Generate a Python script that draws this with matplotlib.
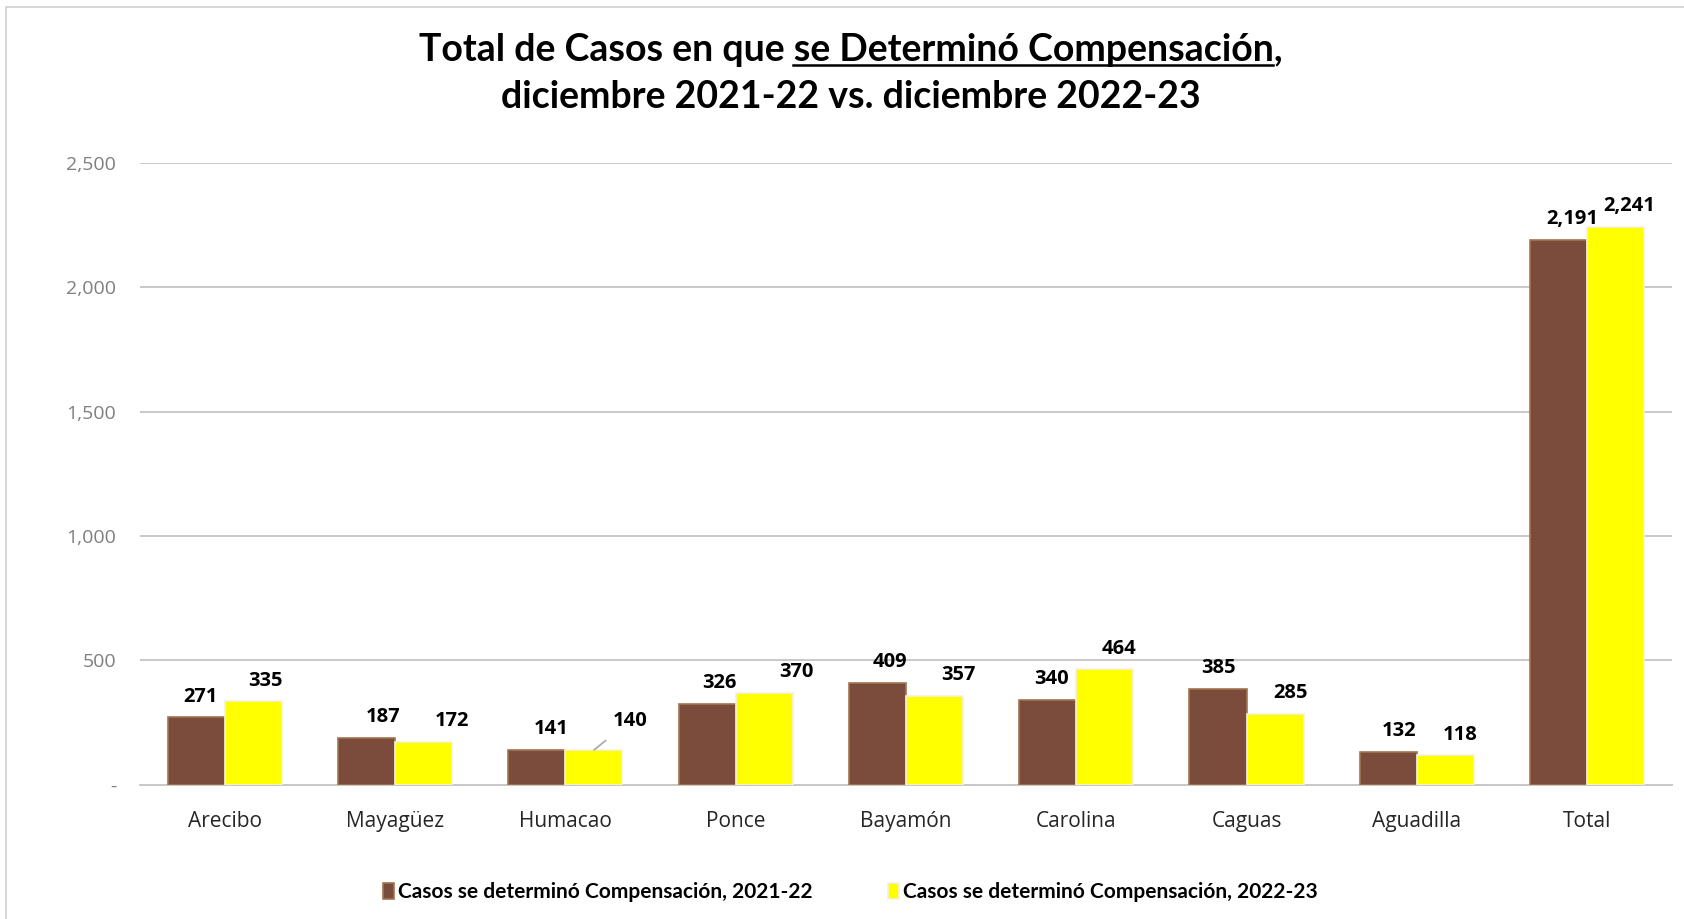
import numpy as np
import matplotlib.pyplot as plt
from matplotlib.patches import Rectangle
from matplotlib.lines import Line2D
from matplotlib.ticker import FuncFormatter

# Datos
regiones = ['Arecibo', 'Mayagüez', 'Humacao', 'Ponce', 'Bayamón',
            'Carolina', 'Caguas', 'Aguadilla', 'Total']
casos_2122 = [271, 187, 141, 326, 409, 340, 385, 132, 2191]
casos_2223 = [335, 172, 140, 370, 357, 464, 285, 118, 2241]
serie_2122 = 'Casos se determinó Compensación, 2021-22'
serie_2223 = 'Casos se determinó Compensación, 2022-23'
y_ticks = [0, 500, 1000, 1500, 2000, 2500]

# desplazamiento de etiquetas (puntos), como en el original de Excel
dx_a = [3, 12, 10, 9, 9, 3, 0, 8, 10]
dx_b = [9, 20, 0, 23, 17, 10, 11, 11, 10]

marron = '#7B4B3B'
amarillo = '#FFFF00'
TXT = 'Open Sans'
TIT = 'Lato'

fig = plt.figure(figsize=(16.84, 9.19), dpi=100)
ax = fig.add_axes([0.083, 0.146, 0.910, 0.677])

x = np.arange(len(regiones))
w = 0.335
b1 = ax.bar(x - w / 2, casos_2122, w, color=marron, edgecolor='#A27450',
            linewidth=1.2, label=serie_2122, zorder=3)
b2 = ax.bar(x + w / 2, casos_2223, w, color=amarillo, edgecolor='#F2F2E0',
            linewidth=1.2, label=serie_2223, zorder=3)

# etiquetas de datos
lkw = dict(ha='center', va='center', fontsize=14.5, fontweight='bold',
           family=TXT, color='black', textcoords='offset points')
for i, (r, v) in enumerate(zip(b1, casos_2122)):
    ax.annotate(f'{v:,}', (r.get_x() + r.get_width() / 2, v),
                xytext=(dx_a[i], 15), **lkw)
for i, (r, v) in enumerate(zip(b2, casos_2223)):
    if regiones[i] == 'Humacao':
        ax.annotate(f'{v:,}', (r.get_x() + r.get_width() / 2, v),
                    xytext=(26, 21), **lkw,
                    arrowprops=dict(arrowstyle='-', color='#A6A6A6', lw=1.2,
                                    shrinkA=8, shrinkB=0))
        continue
    ax.annotate(f'{v:,}', (r.get_x() + r.get_width() / 2, v),
                xytext=(dx_b[i], 15), **lkw)

ax.set_xlim(-0.5, len(regiones) - 0.5)
ax.set_ylim(0, 2500)
ax.set_yticks(y_ticks)
ax.yaxis.set_major_formatter(FuncFormatter(lambda v, p: '-' if v == 0 else f'{v:,.0f}'))
ax.set_xticks(x)
ax.set_xticklabels(regiones)
ax.tick_params(axis='y', length=0, pad=17, labelsize=14, labelcolor='#7F7F7F')
ax.tick_params(axis='x', length=0, pad=19, labelsize=15, labelcolor='#262626')
for lab in ax.get_xticklabels() + ax.get_yticklabels():
    lab.set_family(TXT)

ax.grid(axis='y', color='#C8C8C8', linewidth=1.4, zorder=0)
for s in ['top', 'right', 'left']:
    ax.spines[s].set_visible(False)
ax.spines['bottom'].set_color('#C8C8C8')
ax.spines['bottom'].set_linewidth(1.4)

# leyenda
leg = fig.legend(loc='center', bbox_to_anchor=(0.505, 0.029), ncol=2, frameon=False,
                 prop={'family': TIT, 'weight': 'bold', 'size': 15},
                 handlelength=0.55, handleheight=0.75, handletextpad=0.2,
                 columnspacing=3.6)

# título, con subrayado en una parte
parte1 = 'Total de Casos en que '
parte2 = 'se Determinó Compensación'
parte3 = ','
tkw = dict(fontsize=27, fontweight='bold', family=TIT, color='black')
yl1 = 1 - 50 / 919
yl2 = 1 - 97 / 919
t_full = fig.text(0.505, yl1, parte1 + parte2 + parte3, ha='center', va='center', **tkw)
fig.text(0.505, yl2, 'diciembre 2021-22 vs. diciembre 2022-23', ha='center', va='center', **tkw)

fig.canvas.draw()
rend = fig.canvas.get_renderer()
bb_full = t_full.get_window_extent(rend)
tmp1 = fig.text(0, 0, parte1, **tkw)
tmp2 = fig.text(0, 0, parte1 + parte2, **tkw)
w1 = tmp1.get_window_extent(rend).width
w12 = tmp2.get_window_extent(rend).width
tmp1.remove()
tmp2.remove()
W, H = fig.bbox.width, fig.bbox.height
x0 = (bb_full.x0 + w1) / W
x1 = (bb_full.x0 + w12) / W
yu = (bb_full.y0 + 2) / H
fig.add_artist(Line2D([x0, x1], [yu, yu], transform=fig.transFigure, color='black', lw=1.8))

# borde gris del área del gráfico
fig.add_artist(Rectangle((5.5 / 1684, -0.1), 1.2, 1.1 - 6.5 / 919, transform=fig.transFigure,
                         fill=False, edgecolor='#D0D0D0', lw=1.2))

fig.savefig('out.png', dpi=100)
